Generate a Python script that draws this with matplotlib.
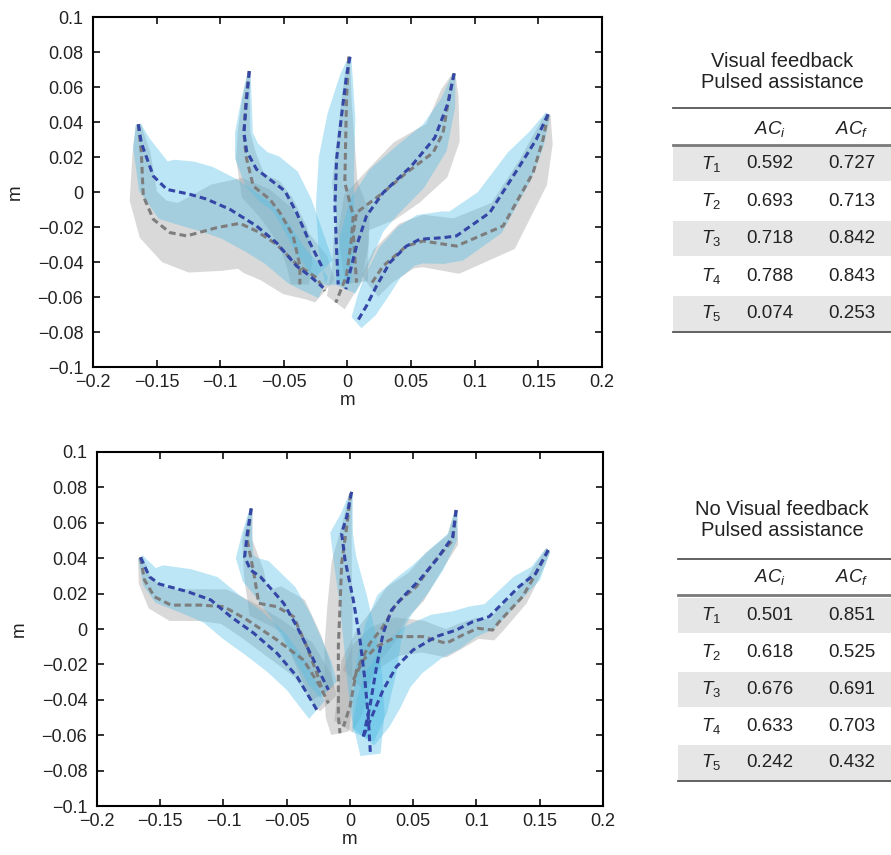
import numpy as np
import matplotlib
matplotlib.use("Agg")
import matplotlib.pyplot as plt
from matplotlib.lines import Line2D
from matplotlib.patches import Rectangle

plt.rcParams['font.family'] = ['Liberation Sans', 'DejaVu Sans']
plt.rcParams['mathtext.fontset'] = 'custom'
plt.rcParams['mathtext.rm'] = 'Liberation Sans'
plt.rcParams['mathtext.it'] = 'Liberation Sans:italic'

# ---- data: mean trajectories (x, y in m) and half-width of the spread band ----
# top panel: visual feedback
vf_blue = [
    ([-0.1644, -0.162, -0.1526, -0.142, -0.124, -0.111, -0.0924, -0.0715, -0.0558, -0.040, -0.0296, -0.019],
     [0.0387, 0.028, 0.0091, 0.0015, -0.0013, -0.004, -0.0099, -0.0194, -0.029, -0.0423, -0.048, -0.0547],
     [0.002, 0.007, 0.014, 0.018, 0.019, 0.019, 0.018, 0.017, 0.015, 0.012, 0.010, 0.007]),
    ([-0.0772, -0.0793, -0.0814, -0.0793, -0.0715, -0.061, -0.0492, -0.040, -0.0296, -0.019],
     [0.0691, 0.053, 0.0339, 0.0234, 0.013, 0.0072, 0.0006, -0.0118, -0.029, -0.0442],
     [0.001, 0.004, 0.007, 0.010, 0.013, 0.015, 0.015, 0.014, 0.012, 0.009]),
    ([0.002, -0.0008, -0.0047, -0.0086, -0.0099, -0.0086, -0.0073],
     [0.0773, 0.0663, 0.0434, 0.0187, -0.008, -0.0328, -0.0528],
     [0.001, 0.005, 0.011, 0.014, 0.015, 0.014, 0.010]),
    ([0.0838, 0.0791, 0.0686, 0.0503, 0.028, 0.0149, 0.0071, 0.0018, -0.0013],
     [0.0678, 0.051, 0.031, 0.0149, -0.0004, -0.0137, -0.0309, -0.0461, -0.0556],
     [0.001, 0.006, 0.012, 0.016, 0.017, 0.016, 0.014, 0.011, 0.008]),
    ([0.1576, 0.1484, 0.1353, 0.1118, 0.0856, 0.0751, 0.0568, 0.0463, 0.0332, 0.0228, 0.0149, 0.0071],
     [0.0444, 0.0301, 0.0149, -0.0118, -0.0251, -0.0261, -0.027, -0.0309, -0.0404, -0.0537, -0.0651, -0.0747],
     [0.002, 0.007, 0.012, 0.015, 0.015, 0.015, 0.014, 0.013, 0.012, 0.011, 0.009, 0.005]),
]
vf_gray = [
    ([-0.1644, -0.162, -0.1605, -0.1526, -0.1395, -0.1264, -0.1029, -0.0846, -0.0715, -0.0558, -0.040, -0.0243, -0.0178],
     [0.0387, 0.0225, -0.0023, -0.0156, -0.0232, -0.0251, -0.0204, -0.0179, -0.0223, -0.0299, -0.0413, -0.049, -0.0566],
     [0.002, 0.007, 0.011, 0.015, 0.018, 0.021, 0.025, 0.026, 0.026, 0.024, 0.020, 0.015, 0.010]),
    ([-0.0772, -0.0798, -0.0814, -0.0798, -0.0741, -0.061, -0.0531, -0.0427, -0.0374, -0.0374],
     [0.0691, 0.053, 0.0339, 0.0206, 0.0034, -0.0042, -0.0118, -0.0251, -0.0423, -0.0528],
     [0.001, 0.003, 0.005, 0.008, 0.011, 0.013, 0.013, 0.012, 0.010, 0.007]),
    ([0.001, -0.0008, -0.0021, 0.0045, 0.0031, -0.0008, -0.0092],
     [0.0773, 0.053, 0.0053, -0.0137, -0.027, -0.048, -0.0632],
     [0.001, 0.004, 0.010, 0.013, 0.014, 0.012, 0.008]),
    ([0.0838, 0.0804, 0.0751, 0.0673, 0.0463, 0.028, 0.0071, 0.0045, 0.0071],
     [0.0678, 0.0568, 0.0339, 0.0225, 0.011, -0.0004, -0.0118, -0.0232, -0.0518],
     [0.001, 0.007, 0.014, 0.018, 0.020, 0.018, 0.014, 0.012, 0.009]),
    ([0.1576, 0.1537, 0.1458, 0.1223, 0.0856, 0.0594, 0.0463, 0.028, 0.0175],
     [0.0444, 0.0301, 0.011, -0.0194, -0.0309, -0.028, -0.0309, -0.0423, -0.0537],
     [0.002, 0.008, 0.013, 0.016, 0.016, 0.015, 0.014, 0.012, 0.009]),
]

# bottom panel: no visual feedback
nvf_blue = [
    ([-0.1656, -0.1585, -0.1507, -0.1284, -0.110, -0.0943, -0.076, -0.0577, -0.0419, -0.0262],
     [0.0405, 0.0295, 0.0254, 0.0211, 0.0164, 0.007, -0.0024, -0.0137, -0.0269, -0.0457],
     [0.002, 0.007, 0.011, 0.013, 0.014, 0.014, 0.014, 0.013, 0.011, 0.008]),
    ([-0.0781, -0.0812, -0.0833, -0.0786, -0.0708, -0.0524, -0.0419, -0.0314, -0.0236, -0.017],
     [0.0681, 0.054, 0.0408, 0.0333, 0.0295, 0.0145, 0.0013, -0.0137, -0.025, -0.0344],
     [0.001, 0.004, 0.007, 0.009, 0.011, 0.013, 0.013, 0.012, 0.011, 0.008]),
    ([0.0013, -0.0026, -0.0066, -0.0039, 0.0026, 0.0079, 0.0118, 0.0144, 0.0162],
     [0.0775, 0.0634, 0.054, 0.039, 0.0164, -0.0062, -0.0288, -0.0495, -0.0711],
     [0.001, 0.005, 0.009, 0.009, 0.011, 0.013, 0.014, 0.013, 0.008]),
    ([0.0839, 0.0812, 0.0681, 0.055, 0.0419, 0.0328, 0.0262, 0.021, 0.0157, 0.0105],
     [0.0672, 0.0521, 0.0389, 0.0277, 0.0182, 0.0107, -0.0024, -0.0213, -0.0438, -0.0608],
     [0.001, 0.004, 0.008, 0.010, 0.012, 0.014, 0.015, 0.016, 0.014, 0.009]),
    ([0.1567, 0.1468, 0.1336, 0.1101, 0.097, 0.0839, 0.0681, 0.0498, 0.0367, 0.0262, 0.0183, 0.0105],
     [0.0446, 0.0314, 0.0239, 0.007, 0.0041, -0.0006, -0.0043, -0.0119, -0.0213, -0.0344, -0.0476, -0.0608],
     [0.002, 0.005, 0.007, 0.008, 0.009, 0.011, 0.013, 0.015, 0.016, 0.017, 0.015, 0.010]),
]
nvf_gray = [
    ([-0.1656, -0.1625, -0.1546, -0.1415, -0.1179, -0.0996, -0.0812, -0.0577, -0.0367, -0.0236, -0.017],
     [0.0405, 0.0277, 0.0182, 0.0135, 0.0135, 0.0126, 0.0051, -0.0062, -0.0175, -0.0325, -0.042],
     [0.002, 0.005, 0.008, 0.009, 0.009, 0.010, 0.011, 0.012, 0.012, 0.011, 0.008]),
    ([-0.0781, -0.0812, -0.076, -0.0721, -0.0577, -0.0446, -0.0341, -0.0262, -0.021],
     [0.0681, 0.0502, 0.0314, 0.0145, 0.0126, 0.007, -0.010, -0.025, -0.0363],
     [0.001, 0.004, 0.008, 0.010, 0.012, 0.013, 0.013, 0.012, 0.009]),
    ([0.0005, -0.0026, -0.0066, -0.0079, -0.0092, -0.0092, -0.0092, -0.0079],
     [0.0765, 0.0578, 0.0371, 0.0126, -0.010, -0.0363, -0.0495, -0.0589],
     [0.001, 0.004, 0.008, 0.010, 0.011, 0.011, 0.010, 0.007]),
    ([0.0839, 0.0812, 0.0655, 0.0524, 0.0367, 0.0262, 0.0157, 0.0052, 0.0, -0.0052],
     [0.0672, 0.0502, 0.0371, 0.0239, 0.0145, 0.0013, -0.0081, -0.0231, -0.0438, -0.0551],
     [0.001, 0.005, 0.008, 0.010, 0.012, 0.013, 0.013, 0.013, 0.011, 0.008]),
    ([0.1567, 0.1441, 0.1363, 0.1179, 0.1127, 0.1009, 0.0891, 0.076, 0.0577, 0.0367, 0.021, 0.0105, 0.0026],
     [0.0446, 0.0277, 0.0182, 0.0041, -0.0006, 0.0004, -0.0034, -0.0081, -0.0043, -0.0043, -0.010, -0.0175, -0.0288],
     [0.002, 0.004, 0.005, 0.006, 0.006, 0.006, 0.007, 0.008, 0.009, 0.011, 0.012, 0.012, 0.010]),
]

# table contents
trial_labels = ['$T_1$', '$T_2$', '$T_3$', '$T_4$', '$T_5$']
vf_aci = ['0.592', '0.693', '0.718', '0.788', '0.074']
vf_acf = ['0.727', '0.713', '0.842', '0.843', '0.253']
nvf_aci = ['0.501', '0.618', '0.676', '0.633', '0.242']
nvf_acf = ['0.851', '0.525', '0.691', '0.703', '0.432']
vf_title = 'Visual feedback\nPulsed assistance'
nvf_title = 'No Visual feedback\nPulsed assistance'

BLUE_LINE = '#3446a6'
GRAY_LINE = '#7d7d7d'
BLUE_FILL = '#4fbde6'
GRAY_FILL = '#9c9c9c'


def band(x, y, w):
    x = np.asarray(x); y = np.asarray(y); w = np.asarray(w)
    dx = np.gradient(x); dy = np.gradient(y)
    n = np.hypot(dx, dy)
    nx, ny = -dy / n, dx / n
    px = np.concatenate([x + w * nx, (x - w * nx)[::-1]])
    py = np.concatenate([y + w * ny, (y - w * ny)[::-1]])
    return px, py


def draw_panel(ax, blue, gray):
    for x, y, w in gray:
        px, py = band(x, y, w)
        ax.fill(px, py, color=GRAY_FILL, alpha=0.38, lw=0)
    for x, y, w in blue:
        px, py = band(x, y, w)
        ax.fill(px, py, color=BLUE_FILL, alpha=0.38, lw=0)
    for x, y, w in gray:
        ax.plot(x, y, ls=(0, (2.2, 1.3)), color=GRAY_LINE, lw=2.2)
    for x, y, w in blue:
        ax.plot(x, y, ls=(0, (2.2, 1.3)), color=BLUE_LINE, lw=2.2)
    ax.set_xlim(-0.2, 0.2)
    ax.set_ylim(-0.1, 0.1)
    ax.set_xticks(np.arange(-0.2, 0.201, 0.05))
    ax.set_yticks(np.arange(-0.1, 0.101, 0.02))
    ax.set_xticklabels(['\u22120.2', '\u22120.15', '\u22120.1', '\u22120.05', '0',
                        '0.05', '0.1', '0.15', '0.2'])
    ax.set_yticklabels(['\u22120.1', '\u22120.08', '\u22120.06', '\u22120.04', '\u22120.02', '0',
                        '0.02', '0.04', '0.06', '0.08', '0.1'])
    ax.tick_params(direction='in', top=True, right=True, length=5, width=1.3,
                   labelsize=13, pad=5, colors='#222222')
    ax.tick_params(axis='y', pad=7)
    for s in ax.spines.values():
        s.set_linewidth(1.5)
    ax.set_xlabel('m', fontsize=13.5, labelpad=1, color='#222222')
    ax.set_ylabel('m', fontsize=13.5, labelpad=10, color='#222222')


fig = plt.figure(figsize=(8.91, 8.55), dpi=100)
ax1 = fig.add_axes([93 / 891, 1 - 367 / 855, 509 / 891, 350 / 855])
ax2 = fig.add_axes([97 / 891, 1 - 806 / 855, 506 / 891, 354 / 855])
draw_panel(ax1, vf_blue, vf_gray)
draw_panel(ax2, nvf_blue, nvf_gray)

# tables drawn on an overlay in pixel coordinates
ov = fig.add_axes([0, 0, 1, 1])
ov.set_xlim(0, 891)
ov.set_ylim(855, 0)
ov.axis('off')


def draw_table(title, title_y, x0, top, header_y, sep, row_y, row_h, aci, acf, bottom):
    ov.text(782, title_y, title, ha='center', va='center', fontsize=14.5,
            linespacing=1.15, color='#222222')
    ov.add_line(Line2D([x0, 891], [top, top], color='#555555', lw=1.3))
    ov.text(770, header_y, '$AC_i$', ha='center', va='center', fontsize=13.5, color='#222222')
    ov.text(852, header_y, '$AC_f$', ha='center', va='center', fontsize=13.5, color='#222222')
    for i, yc in enumerate(row_y):
        if i % 2 == 0:
            ov.add_patch(Rectangle((x0, yc - row_h / 2), 891 - x0, row_h,
                                   color='#e6e6e7', lw=0))
        ov.text(711, yc, trial_labels[i], ha='center', va='center', fontsize=13.5, color='#222222')
        ov.text(770, yc, aci[i], ha='center', va='center', fontsize=13.5, color='#222222')
        ov.text(852, yc, acf[i], ha='center', va='center', fontsize=13.5, color='#222222')
    ov.add_line(Line2D([x0, 891], [sep, sep], color='#7a7a7a', lw=2.0))
    ov.add_line(Line2D([x0, 891], [bottom, bottom], color='#555555', lw=1.3))


draw_table(vf_title, 72, 673, 108, 129, 145, [164, 201, 238, 276, 313], 35, vf_aci, vf_acf, 332)
draw_table(nvf_title, 520, 678, 559, 577, 595, [615, 652, 689, 726, 762], 35, nvf_aci, nvf_acf, 781)

fig.savefig('out.png', dpi=100)
